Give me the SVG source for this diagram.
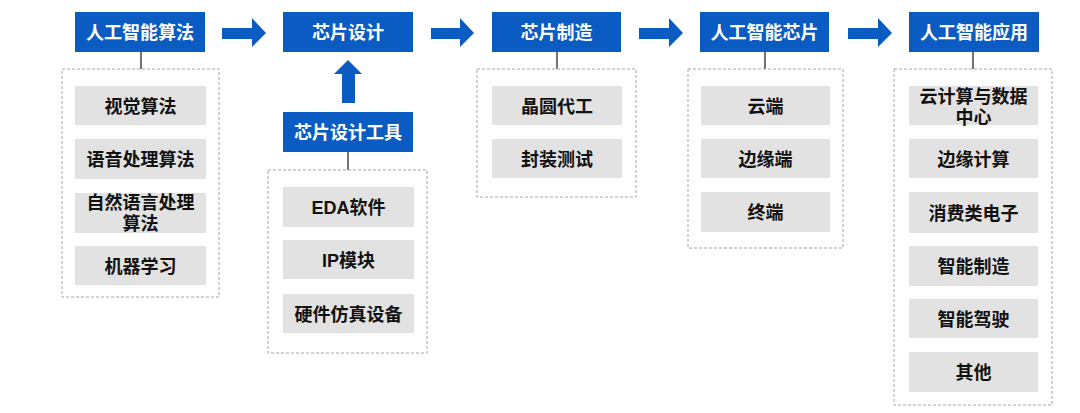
<svg xmlns="http://www.w3.org/2000/svg" width="1080" height="413" viewBox="0 0 1080 413">
<style>
.hd{fill:#0b5cc2}
.ht{fill:#fff;font-family:"Liberation Sans","Noto Sans CJK SC",sans-serif;font-weight:bold;font-size:18px;text-anchor:middle;dominant-baseline:central}
.it{fill:#e2e2e2}
.tt{fill:#111;font-family:"Liberation Sans","Noto Sans CJK SC",sans-serif;font-weight:bold;font-size:18px;text-anchor:middle;dominant-baseline:central}
.ct{fill:none;stroke:#a5a5a5;stroke-width:1;stroke-dasharray:3 2}
.ln{stroke:#444;stroke-width:1.5}
.ar{fill:#0b5cc2}
</style>
<rect width="1080" height="413" fill="#fff"/>
<g id="connectors">
<line class="ln" x1="141" y1="52" x2="141" y2="69"/>
<line class="ln" x1="348" y1="152" x2="348" y2="170"/>
<line class="ln" x1="557" y1="52" x2="557" y2="69"/>
<line class="ln" x1="765" y1="52" x2="765" y2="69"/>
<line class="ln" x1="973" y1="52" x2="973" y2="69"/>
<polygon class="ar" points="222,28 252,28 252,18 266,33 252,47 252,39 222,39"/>
<polygon class="ar" points="431,28 460,28 460,18 474,33 460,47 460,39 431,39"/>
<polygon class="ar" points="639,28 669,28 669,18 683,33 669,47 669,39 639,39"/>
<polygon class="ar" points="848,28 878,28 878,18 892,33 878,47 878,39 848,39"/>
<polygon class="ar" points="342,103 342,74 334,74 348,60 362,74 355,74 355,103"/>
</g>
<g id="n-algo">
<rect class="hd" x="75" y="12" width="130" height="40"/>
<text class="ht" x="140" y="33">人工智能算法</text>
<rect class="ct" x="62" y="69" width="157" height="228"/>
<rect class="it" x="75" y="86" width="131" height="39"/>
<text class="tt" x="140.5" y="106.5">视觉算法</text>
<rect class="it" x="75" y="139" width="131" height="40"/>
<text class="tt" x="140.5" y="160">语音处理算法</text>
<rect class="it" x="75" y="193" width="131" height="40"/>
<text class="tt" x="140.5" y="203"><tspan x="140.5" y="203">自然语言处理</tspan><tspan x="140.5" y="224">算法</tspan></text>
<rect class="it" x="75" y="246" width="131" height="39"/>
<text class="tt" x="140.5" y="266.5">机器学习</text>
</g>
<g id="n-design">
<rect class="hd" x="283" y="12" width="130" height="40"/>
<text class="ht" x="348" y="33">芯片设计</text>
</g>
<g id="n-tools">
<rect class="hd" x="283" y="112" width="130" height="40"/>
<text class="ht" x="348" y="133">芯片设计工具</text>
<rect class="ct" x="268" y="170" width="159" height="183"/>
<rect class="it" x="283" y="187" width="131" height="40"/>
<text class="tt" x="348.5" y="208">EDA软件</text>
<rect class="it" x="283" y="240" width="131" height="39"/>
<text class="tt" x="348.5" y="260.5">IP模块</text>
<rect class="it" x="283" y="294" width="131" height="39"/>
<text class="tt" x="348.5" y="314.5">硬件仿真设备</text>
</g>
<g id="n-manu">
<rect class="hd" x="492" y="12" width="129" height="40"/>
<text class="ht" x="556.5" y="33">芯片制造</text>
<rect class="ct" x="477" y="69" width="159" height="128"/>
<rect class="it" x="492" y="86" width="130" height="39"/>
<text class="tt" x="557" y="106.5">晶圆代工</text>
<rect class="it" x="492" y="139" width="130" height="39"/>
<text class="tt" x="557" y="159.5">封装测试</text>
</g>
<g id="n-chip">
<rect class="hd" x="700" y="12" width="129" height="40"/>
<text class="ht" x="764.5" y="33">人工智能芯片</text>
<rect class="ct" x="688" y="69" width="155" height="179"/>
<rect class="it" x="701" y="86" width="129" height="39"/>
<text class="tt" x="765.5" y="106.5">云端</text>
<rect class="it" x="701" y="139" width="129" height="39"/>
<text class="tt" x="765.5" y="159.5">边缘端</text>
<rect class="it" x="701" y="192" width="129" height="40"/>
<text class="tt" x="765.5" y="213">终端</text>
</g>
<g id="n-app">
<rect class="hd" x="909" y="12" width="130" height="40"/>
<text class="ht" x="974" y="33">人工智能应用</text>
<rect class="ct" x="894" y="69" width="158" height="336"/>
<rect class="it" x="909" y="86" width="129" height="39"/>
<text class="tt" x="973.5" y="97"><tspan x="973.5" y="97">云计算与数据</tspan><tspan x="973.5" y="118">中心</tspan></text>
<rect class="it" x="909" y="139" width="129" height="39"/>
<text class="tt" x="973.5" y="159.5">边缘计算</text>
<rect class="it" x="909" y="192" width="129" height="41"/>
<text class="tt" x="973.5" y="213.5">消费类电子</text>
<rect class="it" x="909" y="246" width="129" height="40"/>
<text class="tt" x="973.5" y="267">智能制造</text>
<rect class="it" x="909" y="299" width="129" height="39"/>
<text class="tt" x="973.5" y="319.5">智能驾驶</text>
<rect class="it" x="909" y="352" width="129" height="40"/>
<text class="tt" x="973.5" y="373">其他</text>
</g>
</svg>
